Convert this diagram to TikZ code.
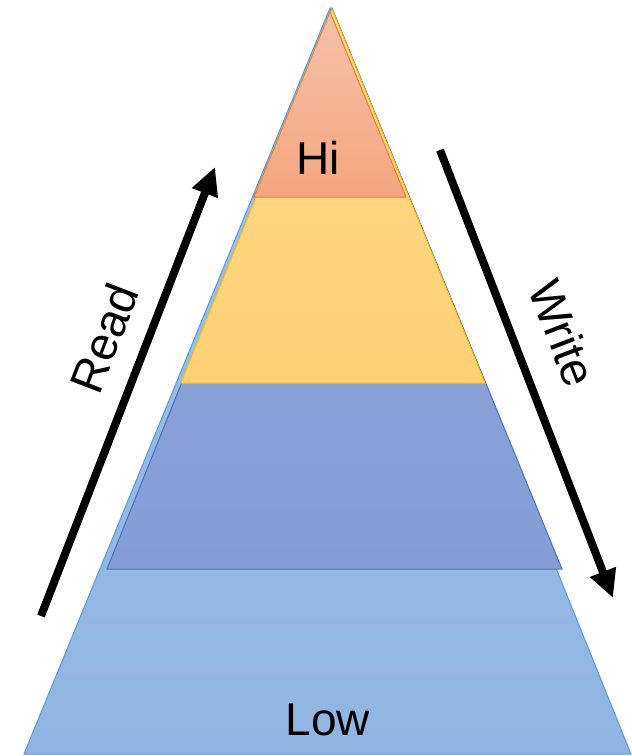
\documentclass[tikz,border=0pt]{standalone}
\usepackage{fontspec}
\setmainfont{Liberation Sans}
\usetikzlibrary{arrows.meta}

\definecolor{lowtop}{HTML}{9EC3E6}
\definecolor{lowbot}{HTML}{8FB5E2}
\definecolor{lowline}{HTML}{5B9BD5}
\definecolor{midtop}{HTML}{93A8DA}
\definecolor{midbot}{HTML}{859DD6}
\definecolor{midline}{HTML}{4472C4}
\definecolor{uptop}{HTML}{FFD98A}
\definecolor{upbot}{HTML}{FFD176}
\definecolor{upline}{HTML}{FFC000}
\definecolor{hitop}{HTML}{F6C1A8}
\definecolor{hibot}{HTML}{F4A67F}
\definecolor{hiline}{HTML}{ED7D31}

\begin{document}
\begin{tikzpicture}[x=1pt, y=-1pt,
    flow/.style={line width=8pt, -{Triangle[length=28pt,width=26pt]}},
    label/.style={font=\fontsize{47}{50}\selectfont}]
  \useasboundingbox (0,0) rectangle (632,756);
  % layers of the pyramid, widest first
  \foreach \ax/\ay/\yb/\xl/\xr/\ft/\fb/\dc in {330/8/754/24/631/lowtop/lowbot/lowline,
      332/8/569/107/562/midtop/midbot/midline,
      332/9/383/181/485/uptop/upbot/upline,
      330/12/197/254/406/hitop/hibot/hiline}
    \draw[draw=\dc, line width=1pt, top color=\ft, bottom color=\fb]
      (\ax,\ay) -- (\xl,\yb) -- (\xr,\yb) -- cycle;

  \node[font=\fontsize{46}{50}\selectfont] (hi) at (318,158) {Hi};
  \node[font=\fontsize{46}{50}\selectfont] (low) at (328,720) {Low};

  % arrows
  \coordinate (readtail) at (41,616);
  \coordinate (readhead) at (215,167);
  \coordinate (writetail) at (440,150);
  \coordinate (writehead) at (613,598);
  \draw[flow] (readtail) -- (readhead);
  \draw[flow] (writetail) -- (writehead);
  \node[label, rotate=69] (read) at (104,338) {Read};
  \node[label, rotate=-69] (write) at (563,333) {Write};
\end{tikzpicture}
\end{document}
